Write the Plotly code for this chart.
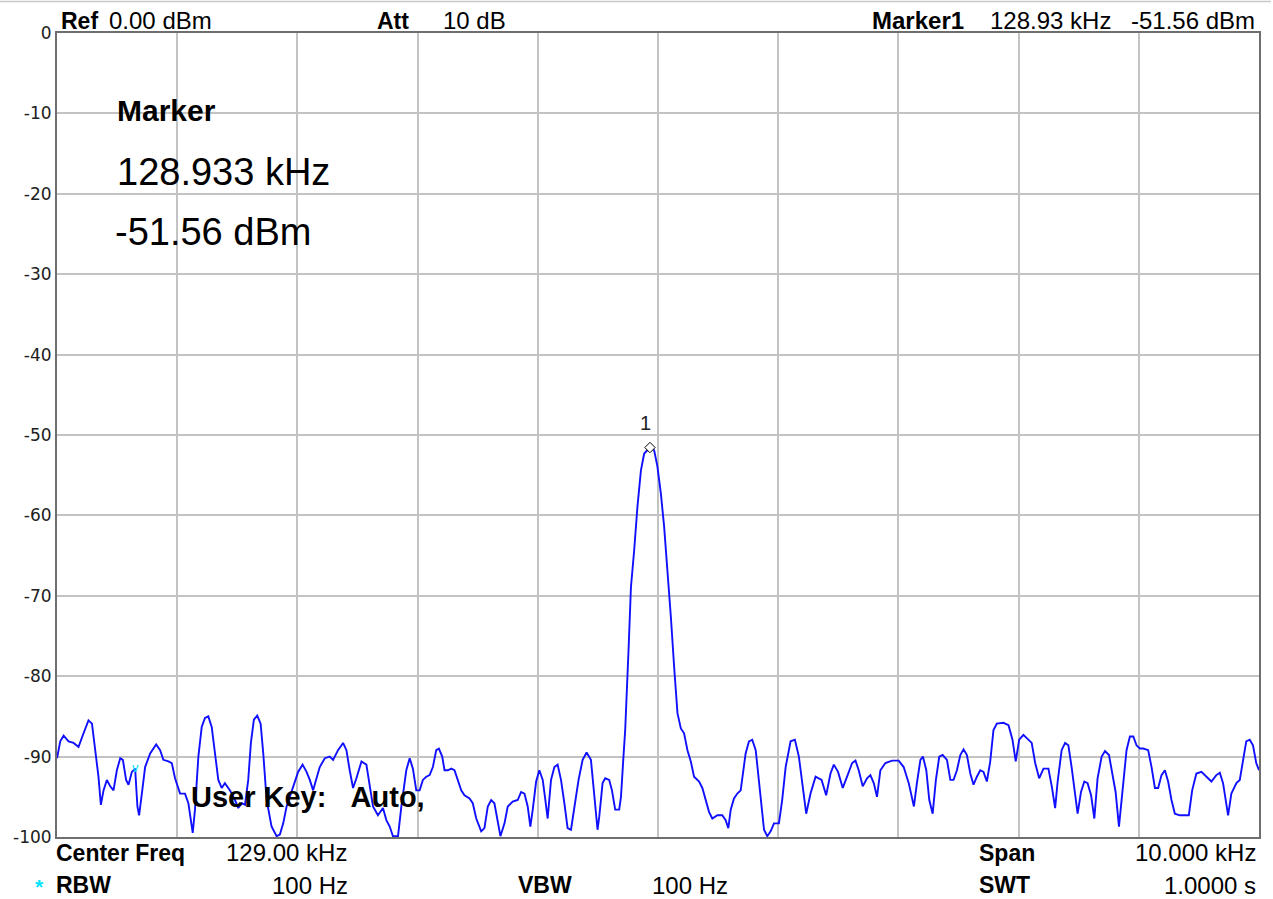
import plotly.graph_objects as go

# ---- data ----
freq_khz = [
    124.000, 124.027, 124.055, 124.096, 124.138, 124.179, 124.221, 124.262, 124.291, 124.318,
    124.345, 124.365, 124.387, 124.415, 124.443, 124.470, 124.498, 124.526, 124.548, 124.575,
    124.595, 124.623, 124.650, 124.669, 124.683, 124.706, 124.733, 124.775, 124.825, 124.858,
    124.885, 124.927, 124.955, 124.982, 125.024, 125.065, 125.093, 125.129, 125.148, 125.176,
    125.204, 125.231, 125.259, 125.287, 125.314, 125.342, 125.370, 125.397, 125.439, 125.481,
    125.508, 125.536, 125.564, 125.591, 125.613, 125.638, 125.666, 125.694, 125.716, 125.744,
    125.785, 125.827, 125.854, 125.882, 125.910, 125.937, 125.979, 126.006, 126.043, 126.076,
    126.103, 126.131, 126.159, 126.186, 126.228, 126.269, 126.297, 126.338, 126.380, 126.408,
    126.435, 126.463, 126.491, 126.533, 126.574, 126.602, 126.629, 126.670, 126.712, 126.740,
    126.768, 126.795, 126.837, 126.865, 126.906, 126.934, 126.961, 126.989, 127.017, 127.044,
    127.072, 127.100, 127.127, 127.155, 127.177, 127.205, 127.224, 127.252, 127.280, 127.307,
    127.335, 127.363, 127.390, 127.432, 127.459, 127.488, 127.529, 127.556, 127.584, 127.612,
    127.639, 127.667, 127.689, 127.723, 127.750, 127.791, 127.833, 127.861, 127.889, 127.916,
    127.938, 127.958, 127.986, 128.013, 128.041, 128.063, 128.082, 128.110, 128.138, 128.165,
    128.193, 128.221, 128.248, 128.276, 128.304, 128.339, 128.373, 128.406, 128.442, 128.470,
    128.497, 128.511, 128.539, 128.561, 128.594, 128.617, 128.644, 128.677, 128.692, 128.711,
    128.727, 128.755, 128.775, 128.802, 128.829, 128.858, 128.885, 128.933, 128.968, 128.995,
    129.024, 129.051, 129.078, 129.107, 129.134, 129.162, 129.190, 129.217, 129.245, 129.273,
    129.300, 129.342, 129.369, 129.397, 129.425, 129.452, 129.494, 129.535, 129.563, 129.585,
    129.605, 129.632, 129.660, 129.688, 129.701, 129.729, 129.757, 129.784, 129.813, 129.840,
    129.862, 129.882, 129.909, 129.937, 129.965, 130.006, 130.033, 130.062, 130.103, 130.139,
    130.172, 130.199, 130.233, 130.269, 130.311, 130.361, 130.399, 130.435, 130.463, 130.498,
    130.537, 130.573, 130.615, 130.643, 130.670, 130.703, 130.739, 130.767, 130.795, 130.822,
    130.850, 130.892, 130.947, 131.002, 131.044, 131.086, 131.113, 131.129, 131.154, 131.183,
    131.204, 131.232, 131.257, 131.285, 131.312, 131.340, 131.368, 131.404, 131.432, 131.459,
    131.487, 131.515, 131.542, 131.570, 131.598, 131.625, 131.653, 131.681, 131.708, 131.736,
    131.764, 131.791, 131.819, 131.874, 131.916, 131.949, 131.976, 132.005, 132.040, 132.082,
    132.109, 132.138, 132.171, 132.207, 132.248, 132.276, 132.304, 132.325, 132.358, 132.387,
    132.414, 132.441, 132.470, 132.491, 132.519, 132.547, 132.574, 132.603, 132.630, 132.657,
    132.691, 132.719, 132.752, 132.779, 132.807, 132.835, 132.862, 132.898, 132.926, 132.954,
    132.981, 133.009, 133.037, 133.078, 133.106, 133.134, 133.161, 133.189, 133.217, 133.244,
    133.272, 133.300, 133.341, 133.383, 133.416, 133.444, 133.479, 133.521, 133.563, 133.604,
    133.645, 133.674, 133.701, 133.729, 133.743, 133.770, 133.812, 133.840, 133.867, 133.894,
    133.923, 133.950, 133.977, 134.000,
]
level_dbm = [
    -90.2, -88.1, -87.4, -88.1, -88.3, -88.8, -87.1, -85.5, -85.9, -89.2,
    -92.5, -96.0, -94.2, -92.9, -93.7, -94.2, -91.7, -90.2, -90.4, -92.9,
    -93.5, -91.9, -91.5, -96.2, -97.3, -94.6, -91.3, -89.6, -88.5, -89.2,
    -90.4, -90.6, -90.8, -92.7, -94.6, -94.6, -95.8, -99.5, -96.6, -90.0,
    -86.3, -85.2, -85.0, -86.3, -89.6, -92.9, -93.9, -93.3, -94.2, -95.4,
    -96.4, -95.8, -96.0, -92.9, -88.3, -85.4, -84.9, -85.9, -89.6, -95.4,
    -98.7, -99.9, -99.7, -98.3, -96.2, -95.0, -93.3, -91.9, -91.0, -91.9,
    -92.9, -94.2, -92.7, -91.3, -90.2, -90.0, -90.4, -89.2, -88.3, -89.2,
    -91.7, -93.9, -92.7, -90.6, -91.0, -93.7, -96.2, -97.3, -96.4, -97.9,
    -98.7, -99.9, -99.9, -96.2, -91.7, -90.2, -91.5, -94.2, -94.2, -92.9,
    -92.5, -92.3, -91.3, -89.2, -89.0, -90.0, -91.7, -91.7, -91.5, -91.7,
    -92.9, -94.2, -94.8, -95.2, -95.8, -97.7, -99.3, -98.9, -96.2, -95.4,
    -95.8, -97.9, -99.9, -98.3, -96.2, -95.6, -95.4, -94.4, -94.6, -96.2,
    -98.7, -96.6, -93.1, -91.7, -92.9, -95.4, -97.7, -92.9, -91.3, -91.0,
    -92.9, -95.8, -98.9, -99.1, -96.2, -92.9, -90.4, -89.5, -90.4, -94.6,
    -99.1, -97.5, -93.3, -92.7, -92.9, -94.2, -96.6, -96.6, -95.0, -90.4,
    -86.7, -76.7, -68.9, -64.3, -58.9, -54.4, -52.3, -51.56, -51.9, -53.9,
    -57.3, -61.4, -66.4, -72.6, -78.8, -84.6, -86.5, -87.1, -89.2, -90.6,
    -92.5, -93.1, -93.9, -95.4, -96.9, -97.7, -97.3, -97.3, -97.9, -98.9,
    -96.6, -95.2, -94.6, -94.2, -92.5, -89.6, -88.1, -87.9, -89.2, -92.9,
    -96.6, -99.1, -99.9, -99.3, -98.3, -98.3, -95.4, -91.3, -88.1, -87.9,
    -90.0, -93.3, -97.1, -94.6, -92.5, -92.9, -94.8, -92.1, -91.0, -91.9,
    -93.9, -92.5, -90.8, -90.5, -91.7, -93.7, -92.7, -92.3, -93.3, -95.0,
    -91.7, -90.8, -90.5, -90.5, -91.3, -93.3, -95.4, -96.2, -93.3, -90.4,
    -90.0, -91.7, -95.4, -97.1, -92.9, -90.0, -89.8, -90.4, -92.9, -92.9,
    -91.7, -89.8, -89.1, -89.8, -92.1, -93.5, -92.5, -91.7, -91.9, -93.1,
    -90.6, -86.7, -85.9, -85.8, -86.1, -87.9, -90.6, -87.9, -87.3, -87.9,
    -88.3, -90.8, -92.7, -91.5, -91.5, -93.7, -96.4, -93.1, -89.2, -88.3,
    -88.6, -91.3, -94.6, -97.1, -94.4, -93.1, -93.3, -94.8, -97.7, -92.7,
    -90.0, -89.3, -89.8, -91.9, -94.4, -98.7, -94.4, -89.2, -87.5, -87.5,
    -88.6, -89.0, -89.0, -89.2, -91.3, -93.9, -93.9, -92.3, -91.7, -93.1,
    -95.4, -97.1, -97.3, -97.3, -97.3, -94.2, -92.1, -91.9, -92.5, -93.1,
    -92.3, -92.0, -93.3, -96.2, -97.3, -94.6, -93.3, -92.9, -90.2, -88.1,
    -87.9, -88.6, -90.8, -91.7,
]
marker_freq_khz = 128.933
marker_level_dbm = -51.56
aux_marker_freq_khz = 124.65
aux_marker_level_dbm = -91.4

y_tick_vals = [0, -10, -20, -30, -40, -50, -60, -70, -80, -90, -100]
y_tick_text = ["0", "-10", "-20", "-30", "-40", "-50", "-60", "-70", "-80", "-90", "-100"]

# ---- layout geometry ----
W, H = 1273, 899
L, R, T, B = 57, 12, 33, 62
PW, PH = W - L - R, H - T - B


def px(x):
    return (x - L) / PW


def py(y):
    return (H - B - y) / PH


FONT = "Liberation Sans, Arial, sans-serif"

fig = go.Figure()
fig.add_trace(go.Scatter(
    x=freq_khz, y=level_dbm, mode="lines",
    line=dict(color="#1010ff", width=1.9), hoverinfo="skip", showlegend=False,
))
fig.add_trace(go.Scatter(
    x=[marker_freq_khz], y=[marker_level_dbm], mode="markers",
    marker=dict(symbol="diamond", size=8, color="white", line=dict(color="black", width=1)),
    showlegend=False, hoverinfo="skip",
))

annotations = []


def txt(text, x, y, size=22, bold=False, anchor="left", color="black", family=FONT):
    if bold:
        text = "<b>" + text + "</b>"
    annotations.append(dict(
        text=text, x=px(x), y=py(y), xref="paper", yref="paper",
        xanchor=anchor, yanchor="middle", showarrow=False,
        font=dict(family=family, size=size, color=color),
    ))


# header
txt("Ref", 59, 21, 23, True)
txt("0.00 dBm", 107, 21, 24)
txt("Att", 376, 21, 23, True)
txt("10 dB", 442, 21, 24)
txt("Marker1", 871, 21, 24, True)
txt("128.93 kHz", 990, 21, 24)
txt("-51.56 dBm", 1259, 21, 24, anchor="right")
# footer
txt("Center Freq", 54, 853, 23, True)
txt("129.00 kHz", 349, 853, 24, anchor="right")
txt("Span", 979, 853, 23, True)
txt("10.000 kHz", 1260, 853, 24, anchor="right")
txt("*", 33, 886, 21, True, color="#00e5ff")
txt("RBW", 54, 885, 23, True)
txt("100 Hz", 350, 885, 24, anchor="right")
txt("VBW", 517, 885, 23, True)
txt("100 Hz", 651, 885, 24)
txt("SWT", 979, 885, 23, True)
txt("1.0000 s", 1260, 885, 24, anchor="right")
# marker readout inside the plot
txt("Marker", 115, 111, 30, True)
txt("128.933 kHz", 115, 172, 38)
txt("-51.56 dBm", 113, 232, 38)
txt("User Key:\u00a0\u00a0\u00a0Auto,", 189, 797, 29, True)

# marker labels in data coordinates
annotations.append(dict(
    text="1", x=marker_freq_khz, y=marker_level_dbm, xref="x", yref="y",
    xanchor="center", yanchor="middle", yshift=25, xshift=-4, showarrow=False,
    font=dict(family=FONT, size=20, color="#202020"),
))
annotations.append(dict(
    text="v", x=aux_marker_freq_khz, y=aux_marker_level_dbm, xref="x", yref="y",
    xanchor="center", yanchor="middle", showarrow=False,
    font=dict(family=FONT, size=13, color="#00e5ff"),
))

fig.update_layout(
    width=W, height=H,
    margin=dict(l=L, r=R, t=T, b=B, pad=0),
    paper_bgcolor="white", plot_bgcolor="white",
    annotations=annotations,
    shapes=[dict(type="line", xref="paper", yref="paper",
                 x0=px(0), x1=px(W), y0=py(1.5), y1=py(1.5),
                 line=dict(color="#c8c8c8", width=1.5))],
)
fig.update_xaxes(
    range=[124, 134], dtick=1, tick0=124, showticklabels=False, ticks="",
    showgrid=True, gridcolor="#c3c3c3", gridwidth=2, zeroline=False,
    showline=True, linecolor="#6e6e6e", linewidth=2, mirror=True, fixedrange=True,
)
fig.update_yaxes(
    range=[-100, 0], tickmode="array", tickvals=y_tick_vals, ticktext=y_tick_text,
    tickfont=dict(family="DejaVu Sans, sans-serif", size=17, color="#202020"),
    ticks="", showgrid=True, gridcolor="#c3c3c3", gridwidth=2, zeroline=False,
    showline=True, linecolor="#6e6e6e", linewidth=2, mirror=True, fixedrange=True,
)

fig.write_html(
    "out.html",
    config={"displayModeBar": False, "staticPlot": True},
    post_script="document.body.style.margin='0';document.body.style.overflow='hidden';",
)
